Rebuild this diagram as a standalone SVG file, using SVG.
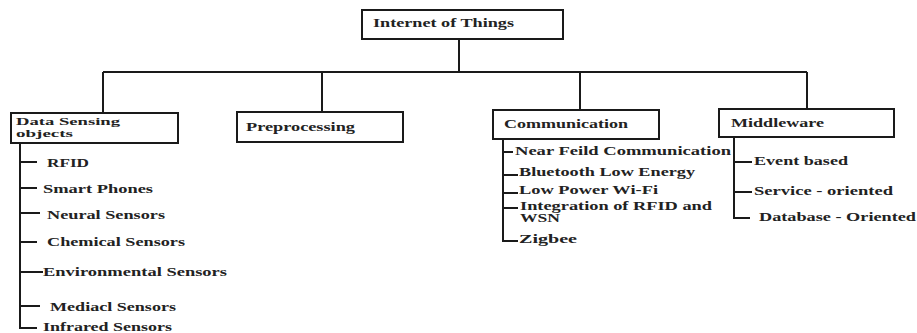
<svg xmlns="http://www.w3.org/2000/svg" width="917" height="333" viewBox="0 0 917 333">
<style>
.box{fill:#fff;stroke:#1a1a1a;stroke-width:2}
.ln{fill:none;stroke:#1a1a1a;stroke-width:2}
text{font-family:"Liberation Serif","DejaVu Serif","Times New Roman",serif;font-weight:bold;font-size:11.5px;fill:#222}
.sm{font-size:10px}
</style>
<rect width="917" height="333" fill="#fff"/>
<g id="connectors">
<path class="ln" d="M459 39V72M103 72H807M103 72V113M322 72V112M580 72V110M807 72V109"/>
<path class="ln" d="M20 143V328H37M20 162H37M20 188H37M20 213H40M20 242H37M20 272H43M20 306H40"/>
<path class="ln" d="M503 139V241H518M503 152H513M503 175H518M503 193H518M503 208H518"/>
<path class="ln" d="M734 137V218H750M734 162H752M734 192H752"/>
</g>
<g id="root"><rect class="box" x="362" y="10" width="201" height="29"/><text x="373" y="27" textLength="141" lengthAdjust="spacingAndGlyphs">Internet of Things</text></g>
<g id="data-sensing"><rect class="box" x="11" y="113" width="167" height="30"/><text class="sm" x="16" y="125" textLength="104" lengthAdjust="spacingAndGlyphs">Data Sensing</text><text class="sm" x="16" y="137" textLength="57" lengthAdjust="spacingAndGlyphs">objects</text></g>
<g id="preprocessing"><rect class="box" x="237" y="112" width="166" height="30"/><text x="246" y="131" textLength="109" lengthAdjust="spacingAndGlyphs">Preprocessing</text></g>
<g id="communication"><rect class="box" x="493" y="110" width="166" height="29"/><text x="504" y="128" textLength="124" lengthAdjust="spacingAndGlyphs">Communication</text></g>
<g id="middleware"><rect class="box" x="719" y="109" width="175" height="28"/><text x="731" y="127" textLength="93" lengthAdjust="spacingAndGlyphs">Middleware</text></g>
<g id="ds-items">
<text x="47" y="167" textLength="42" lengthAdjust="spacingAndGlyphs">RFID</text>
<text x="43" y="193" textLength="110" lengthAdjust="spacingAndGlyphs">Smart Phones</text>
<text x="47" y="219" textLength="118" lengthAdjust="spacingAndGlyphs">Neural Sensors</text>
<text x="47" y="246" textLength="138" lengthAdjust="spacingAndGlyphs">Chemical Sensors</text>
<text x="43" y="276" textLength="184" lengthAdjust="spacingAndGlyphs">Environmental Sensors</text>
<text x="50" y="311" textLength="126" lengthAdjust="spacingAndGlyphs">Mediacl Sensors</text>
<text x="43" y="331" textLength="129" lengthAdjust="spacingAndGlyphs">Infrared Sensors</text>
</g>
<g id="comm-items">
<text x="515" y="155" textLength="216" lengthAdjust="spacingAndGlyphs">Near Feild Communication</text>
<text x="519" y="176" textLength="176" lengthAdjust="spacingAndGlyphs">Bluetooth Low Energy</text>
<text x="519" y="194" textLength="139" lengthAdjust="spacingAndGlyphs">Low Power Wi-Fi</text>
<text x="520" y="210" textLength="192" lengthAdjust="spacingAndGlyphs">Integration of RFID and</text>
<text x="520" y="222" textLength="40" lengthAdjust="spacingAndGlyphs">WSN</text>
<text x="519" y="243" textLength="58" lengthAdjust="spacingAndGlyphs">Zigbee</text>
</g>
<g id="mw-items">
<text x="754" y="165" textLength="94" lengthAdjust="spacingAndGlyphs">Event based</text>
<text x="754" y="195" textLength="139" lengthAdjust="spacingAndGlyphs">Service - oriented</text>
<text x="759" y="221" textLength="157" lengthAdjust="spacingAndGlyphs">Database - Oriented</text>
</g>
</svg>
